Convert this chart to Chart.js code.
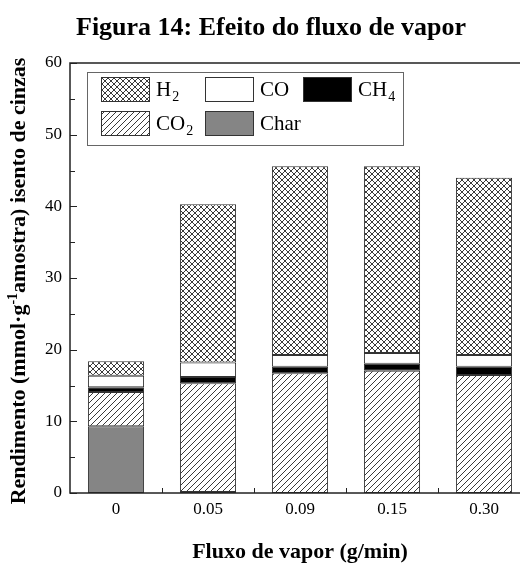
<!DOCTYPE html>
<html><head><meta charset="utf-8">
<script src="https://cdn.jsdelivr.net/npm/chart.js@4"></script>
<style>html,body{margin:0;padding:0;background:#fff;overflow:hidden;} #wrap{position:absolute;left:0;top:0;width:540px;height:563px;}</style>
</head><body><div id="wrap"><canvas id="c" width="540" height="563"></canvas></div>
<script>
const categories = ['0', '0.05', '0.09', '0.15', '0.30'];
const charVals = [9.3, 0.15, 0, 0, 0];
const co2Vals  = [4.8, 15.15, 16.7, 17.05, 16.45];
const ch4Vals  = [0.65, 0.9, 0.9, 1.0, 1.15];
const coVals   = [1.6, 2.0, 1.65, 1.5, 1.65];
const h2Vals   = [2.05, 22.1, 26.35, 26.05, 24.75];
const yTicks = [0, 10, 20, 30, 40, 50, 60];
const seriesNames = ['Char', 'CO2', 'CH4', 'CO', 'H2'];
const legendOrder = [['H2', 'CO', 'CH4'], ['CO2', 'Char']];
const titleText = 'Figura 14: Efeito do fluxo de vapor';
const xTitle = 'Fluxo de vapor (g/min)';
const yTitleParts = ['Rendimento (mmol·g', '-1', 'amostra) isento de cinzas'];

const FONT = '"Liberation Serif", "Times New Roman", serif';

function makePattern(kind) {
  const s = 6;
  const c = document.createElement('canvas');
  c.width = s; c.height = s;
  const g = c.getContext('2d');
  g.fillStyle = '#fff'; g.fillRect(0, 0, s, s);
  g.strokeStyle = '#3a3a3a'; g.lineWidth = 1;
  g.beginPath();
  g.moveTo(-1, s + 1); g.lineTo(s + 1, -1);
  g.moveTo(-1, 1); g.lineTo(1, -1);
  g.moveTo(s - 1, s + 1); g.lineTo(s + 1, s - 1);
  if (kind === 'cross') {
    g.moveTo(-1, -1); g.lineTo(s + 1, s + 1);
    g.moveTo(s - 1, -1); g.lineTo(s + 1, 1);
    g.moveTo(-1, s - 1); g.lineTo(1, s + 1);
  }
  g.stroke();
  return g.createPattern(c, 'repeat');
}

const fills = {
  'Char': '#858585',
  'CO2': makePattern('diag'),
  'CH4': '#000000',
  'CO': '#ffffff',
  'H2': makePattern('cross')
};
const valuesBySeries = { 'Char': charVals, 'CO2': co2Vals, 'CH4': ch4Vals, 'CO': coVals, 'H2': h2Vals };

function drawSubText(ctx, text, x, y, size) {
  const m = text.match(/^([A-Za-z]+)(\d*)$/);
  ctx.font = size + 'px ' + FONT;
  ctx.textAlign = 'left'; ctx.textBaseline = 'alphabetic';
  ctx.fillText(m[1], x, y);
  if (m[2]) {
    const w = ctx.measureText(m[1]).width;
    ctx.font = Math.round(size * 0.65) + 'px ' + FONT;
    ctx.fillText(m[2], x + w + 1, y + 5);
  }
}

const deco = {
  id: 'deco',
  afterDraw(chart) {
    const ctx = chart.ctx;
    const a = chart.chartArea;
    const x = chart.scales.x, y = chart.scales.y;
    ctx.save();
    // frame
    ctx.strokeStyle = '#222'; ctx.lineWidth = 1.5;
    ctx.strokeRect(a.left, a.top, a.right - a.left, a.bottom - a.top);
    // y ticks inside
    ctx.lineWidth = 1;
    for (let v = yTicks[0]; v <= yTicks[yTicks.length - 1]; v += 5) {
      const py = Math.round(y.getPixelForValue(v)) + 0.5;
      const len = (v % 10 === 0) ? 7 : 5;
      ctx.beginPath(); ctx.moveTo(a.left, py); ctx.lineTo(a.left + len, py); ctx.stroke();
    }
    // x ticks at category boundaries
    for (let i = 0; i < categories.length - 1; i++) {
      const px = Math.round((x.getPixelForValue(i) + x.getPixelForValue(i + 1)) / 2) + 0.5;
      ctx.beginPath(); ctx.moveTo(px, a.bottom); ctx.lineTo(px, a.bottom - 5); ctx.stroke();
    }
    // legend
    const lx = 87, ly = 72, lw = 316, lh = 73;
    ctx.fillStyle = '#fff'; ctx.fillRect(lx, ly, lw, lh);
    ctx.strokeStyle = '#666'; ctx.lineWidth = 1;
    ctx.strokeRect(lx + 0.5, ly + 0.5, lw, lh);
    const colX = [101, 205, 303];
    const rowY = [77, 111];
    legendOrder.forEach((row, ri) => {
      row.forEach((name, ci) => {
        const sx = colX[ci], sy = rowY[ri];
        ctx.fillStyle = fills[name];
        ctx.fillRect(sx, sy, 48, 24);
        ctx.strokeStyle = '#333'; ctx.lineWidth = 1;
        ctx.strokeRect(sx + 0.5, sy + 0.5, 48, 24);
        ctx.fillStyle = '#000';
        drawSubText(ctx, name, sx + 55, sy + 19, 21);
      });
    });
    // title
    ctx.fillStyle = '#000';
    ctx.font = 'bold 26px ' + FONT;
    ctx.textAlign = 'center'; ctx.textBaseline = 'alphabetic';
    ctx.fillText(titleText, 271, 35);
    // x title
    ctx.font = 'bold 22px ' + FONT;
    ctx.fillText(xTitle, (a.left + a.right) / 2, 558);
    // y title rotated
    ctx.translate(25, 281);
    ctx.rotate(-Math.PI / 2);
    const big = 'bold 22px ' + FONT, small = 'bold 14px ' + FONT;
    ctx.font = big; const w0 = ctx.measureText(yTitleParts[0]).width;
    ctx.font = small; const w1 = ctx.measureText(yTitleParts[1]).width;
    ctx.font = big; const w2 = ctx.measureText(yTitleParts[2]).width;
    let sx = -(w0 + w1 + w2) / 2;
    ctx.textAlign = 'left';
    ctx.font = big; ctx.fillText(yTitleParts[0], sx, 0); sx += w0;
    ctx.font = small; ctx.fillText(yTitleParts[1], sx, -8); sx += w1;
    ctx.font = big; ctx.fillText(yTitleParts[2], sx, 0);
    ctx.restore();
  }
};

const datasets = seriesNames.map(name => ({
  label: name,
  data: valuesBySeries[name],
  backgroundColor: fills[name],
  borderColor: '#333',
  borderWidth: 1,
  borderSkipped: false,
  barPercentage: 0.61,
  categoryPercentage: 1.0
}));

new Chart(document.getElementById('c').getContext('2d'), {
  type: 'bar',
  data: { labels: categories, datasets: datasets },
  options: {
    responsive: false,
    animation: false,
    layout: { padding: { left: 0, right: 10, top: 63, bottom: 0 } },
    plugins: { legend: { display: false }, title: { display: false }, tooltip: { enabled: false } },
    scales: {
      x: {
        stacked: true,
        grid: { display: false, drawTicks: false },
        border: { display: false },
        ticks: { font: { family: FONT, size: 17 }, color: '#000', padding: 6, maxRotation: 0, autoSkip: false },
        afterFit(s) { s.height = 70; }
      },
      y: {
        stacked: true,
        min: yTicks[0], max: yTicks[yTicks.length - 1],
        grid: { display: false, drawTicks: false },
        border: { display: false },
        ticks: { stepSize: 10, font: { family: FONT, size: 17 }, color: '#000', padding: 8 },
        afterFit(s) { s.width = 70; }
      }
    }
  },
  plugins: [deco]
});
</script>
</body></html>
